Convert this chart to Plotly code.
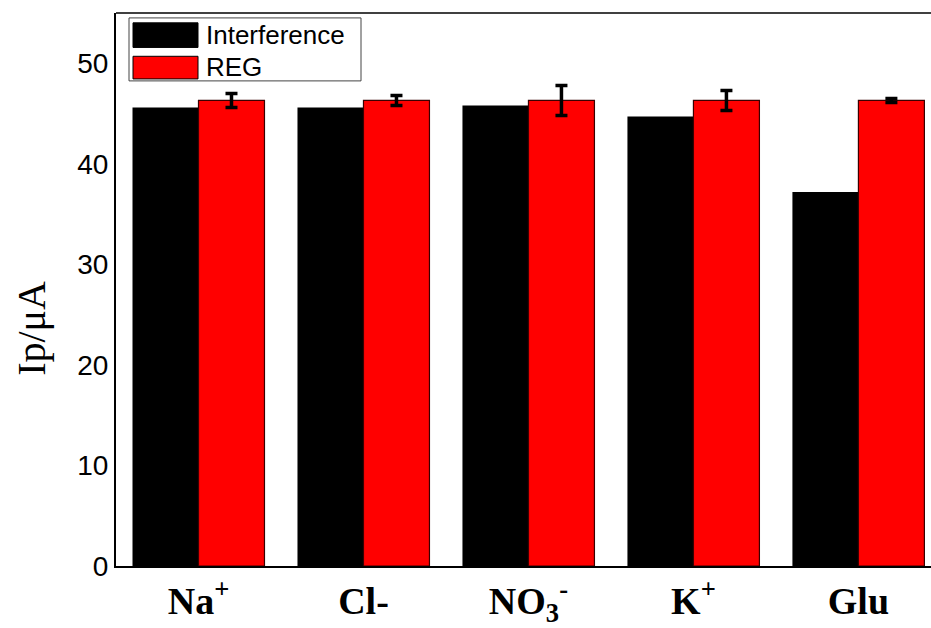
import plotly.graph_objects as go

categories = ["Na<sup>+</sup>", "Cl-", "NO<sub>3</sub><sup>-</sup>", "K<sup>+</sup>", "Glu"]
interference = [45.6, 45.6, 45.8, 44.7, 37.2]
reg = [46.3, 46.3, 46.3, 46.3, 46.3]
reg_err = [0.7, 0.5, 1.5, 1.0, 0.2]
y_ticks = [0, 10, 20, 30, 40, 50]

W, H = 931, 628
L, R, T, B = 116, 0, 13, 53
pw, ph = W - L - R, H - T - B

def px(x):
    return (x - L) / pw

def py(y):
    return (H - B - y) / ph

fig = go.Figure()
fig.add_trace(go.Bar(x=categories, y=interference, name="Interference",
                     marker=dict(color="black", line=dict(color="black", width=0)),
                     showlegend=False))
fig.add_trace(go.Bar(x=categories, y=reg, name="REG",
                     marker=dict(color="#ff0000", line=dict(color="#3a0000", width=1.2)),
                     error_y=dict(type="data", array=reg_err, visible=True,
                                  color="black", thickness=3.5, width=6),
                     showlegend=False))

shapes = [
    dict(type="line", xref="paper", yref="paper", x0=0, x1=1, y0=1, y1=1,
         line=dict(color="black", width=1.5)),
    dict(type="rect", xref="paper", yref="paper", x0=px(129), x1=px(361), y0=py(82), y1=py(18),
         line=dict(color="#444", width=1), fillcolor="white", layer="above"),
    dict(type="rect", xref="paper", yref="paper", x0=px(133), x1=px(198), y0=py(48), y1=py(23),
         line=dict(color="black", width=1), fillcolor="black", layer="above"),
    dict(type="rect", xref="paper", yref="paper", x0=px(133), x1=px(198), y0=py(80), y1=py(57),
         line=dict(color="black", width=1), fillcolor="#ff0000", layer="above"),
]
annotations = [
    dict(xref="paper", yref="paper", x=px(204), y=py(35), text="Interference", showarrow=False,
         xanchor="left", yanchor="middle", font=dict(family="Arial, Liberation Sans", size=26, color="black")),
    dict(xref="paper", yref="paper", x=px(204), y=py(68), text="REG", showarrow=False,
         xanchor="left", yanchor="middle", font=dict(family="Arial, Liberation Sans", size=26, color="black")),
    dict(xref="paper", yref="paper", x=px(32), y=py(334), text="Ip/μA", showarrow=False,
         textangle=-90, xanchor="center", yanchor="middle",
         font=dict(family="Times New Roman, Liberation Serif", size=40, color="black")),
]

fig.update_layout(
    width=W, height=H,
    margin=dict(l=L, r=R, t=T, b=B),
    paper_bgcolor="white", plot_bgcolor="white",
    barmode="group", bargap=0.2, bargroupgap=0,
    shapes=shapes, annotations=annotations,
    xaxis=dict(range=[-0.5, 4.44], showline=True, linecolor="black", linewidth=2,
               mirror=False, ticks="", showgrid=False,
               tickprefix="<b>", ticksuffix="</b>",
               tickfont=dict(family="Times New Roman, Liberation Serif", size=38, color="black")),
    yaxis=dict(range=[0, 55], tickvals=y_ticks, showline=True, linecolor="black", linewidth=2,
               ticks="", showgrid=False, zeroline=False,
               tickfont=dict(family="Arial, Liberation Sans", size=28, color="black")),
)

fig.write_html("out.html")
